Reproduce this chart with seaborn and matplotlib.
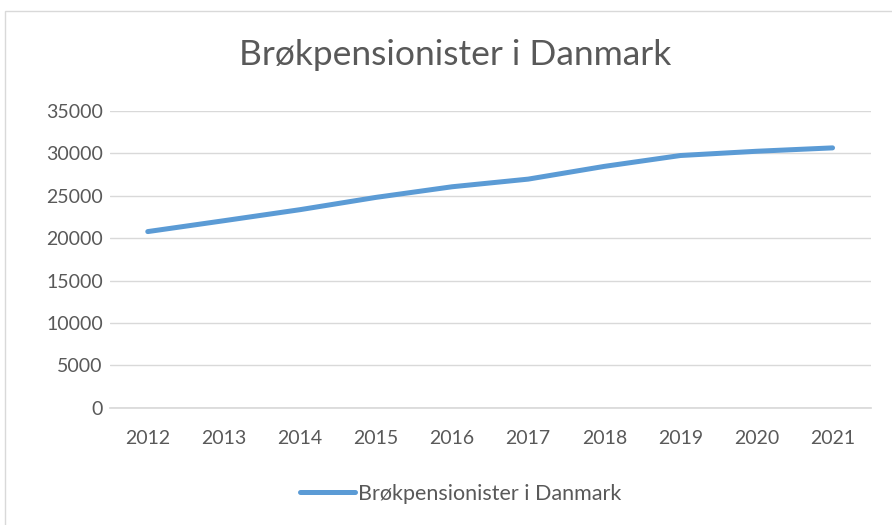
import matplotlib
matplotlib.use("Agg")
import matplotlib.pyplot as plt
import seaborn as sns
import pandas as pd

# -------------------- Data -------------------- #
years = ["2012", "2013", "2014", "2015", "2016", "2017", "2018", "2019", "2020", "2021"]
pensioners = [20770, 22050, 23350, 24800, 26050, 26950, 28450, 29730, 30230, 30630]
series_name = "Brøkpensionister i Danmark"
y_ticks = [0, 5000, 10000, 15000, 20000, 25000, 30000, 35000]

df = pd.DataFrame({"year": years, "value": pensioners, "series": series_name})

# -------------------- Plot -------------------- #
sns.set_theme(style="white")
plt.rcParams["font.family"] = ["Lato", "DejaVu Sans"]
grey = "#595959"
blue = "#5B9BD5"

fig = plt.figure(figsize=(8.92, 5.25), dpi=100)
ax = fig.add_axes([0.123, 0.223, 0.853, 0.566])

sns.lineplot(data=df, x="year", y="value", hue="series", palette=[blue],
             linewidth=3.6, sort=False, ax=ax, legend=False,
             solid_capstyle="round")

ax.set_ylim(0, 35000)
ax.set_xlim(-0.5, len(years) - 0.5)
ax.set_yticks(y_ticks)
ax.set_yticklabels([str(t) for t in y_ticks])
ax.yaxis.grid(True, color="#d9d9d9", linewidth=1)
ax.set_axisbelow(True)
for side in ["top", "right", "left"]:
    ax.spines[side].set_visible(False)
ax.spines["bottom"].set_color("#d9d9d9")
ax.tick_params(axis="both", length=0, labelsize=14, labelcolor=grey)
ax.tick_params(axis="x", pad=16)
ax.tick_params(axis="y", pad=5)
ax.set_xlabel("")
ax.set_ylabel("")

fig.text(0.51, 0.895, series_name, ha="center", va="center", fontsize=25.5,
         color=grey)

handle = plt.Line2D([], [], color=blue, linewidth=3.6, solid_capstyle="round")
fig.legend([handle], [series_name], loc="center", bbox_to_anchor=(0.516, 0.06),
           frameon=False, fontsize=15.5, labelcolor=grey, handlelength=2.6,
           handletextpad=0.1)

# outer chart border
border = plt.Rectangle((0.006, -0.01), 1.1, 0.99, transform=fig.transFigure,
                       fill=False, edgecolor="#d9d9d9", linewidth=1)
fig.patches.append(border)

fig.savefig("out.png", dpi=100)
